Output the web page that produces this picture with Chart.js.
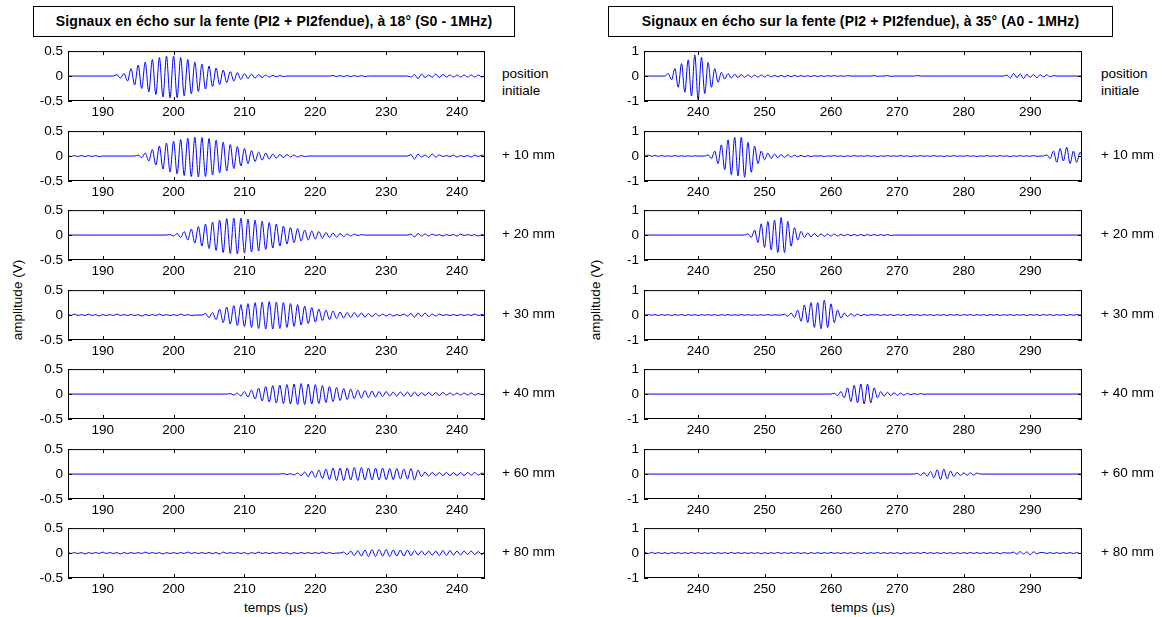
<!DOCTYPE html>
<html>
<head>
<meta charset="utf-8">
<script src="https://cdn.jsdelivr.net/npm/chart.js@4.4.0/dist/chart.umd.min.js"></script>
<style>
  body { margin: 0; background: #fff; width: 1162px; height: 617px; position: relative; overflow: hidden;
         font-family: "Liberation Sans", Arial, sans-serif; color: #000; }
  canvas { position: absolute; }
  .tbox { position: absolute; top: 6px; height: 31px; box-sizing: border-box; border: 1px solid #000; background: #fff;
          font-weight: bold; font-size: 14px; line-height: 29px; text-align: center; white-space: nowrap; letter-spacing: 0.15px; }
  .lbl { position: absolute; font-size: 13.5px; line-height: 17px; white-space: nowrap; }
  .ylab { position: absolute; font-size: 13.5px; white-space: nowrap; transform: translate(-50%, -50%) rotate(-90deg); }
  .xlab { position: absolute; font-size: 13.5px; white-space: nowrap; transform: translate(-50%, -50%); }
</style>
</head>
<body>
<div class="tbox" style="left:33px;width:482px">Signaux en écho sur la fente (PI2 + PI2fendue), à 18° (S0 - 1MHz)</div>
<div class="tbox" style="left:608px;width:505px">Signaux en écho sur la fente (PI2 + PI2fendue), à 35° (A0 - 1MHz)</div>
<div class="ylab" style="left:17px;top:300px">amplitude (V)</div>
<div class="ylab" style="left:595px;top:300px">amplitude (V)</div>
<div class="xlab" style="left:276px;top:607px">temps (µs)</div>
<div class="xlab" style="left:863px;top:607px">temps (µs)</div>
<script>
// ---- ticks / labels ----
const xTicksS0 = [190, 200, 210, 220, 230, 240];
const xTicksA0 = [240, 250, 260, 270, 280, 290];
const yTicksS0 = [-0.5, 0, 0.5];
const yTicksA0 = [-1, 0, 1];
const positions = ['position\ninitiale', '+ 10 mm', '+ 20 mm', '+ 30 mm', '+ 40 mm', '+ 60 mm', '+ 80 mm'];
const STEP = 0.5; // µs between successive extrema (1 MHz)

// ---- S0 traces (left): [start time µs, successive extrema in V] ----
const s0_init = [
  [191.5, [0, 0.03, -0.04, 0.05, -0.1, 0.15, -0.18, 0.22, -0.25, 0.28, -0.32, 0.33, -0.37, 0.37, -0.42, 0.4, -0.44, 0.4, -0.43, 0.37, -0.4, 0.33, -0.36, 0.28, -0.31, 0.24, -0.26, 0.2, -0.21, 0.16, -0.17, 0.12, -0.13, 0.09, -0.1, 0.07, -0.07, 0.05, -0.05, 0.04, -0.04, 0.03, -0.03, 0.02, -0.02, 0.015, -0.015, 0.01, -0.01, 0]],
  [222, [0, 0.01, -0.01, 0.01, -0.01, 0.01, -0.01, 0.01, -0.01, 0.01, -0.01, 0]],
  [233, [0, -0.02, 0.03, -0.05, 0.04, -0.03, 0.02, -0.02, 0.04, -0.03, 0.03, -0.02, 0.02, -0.02, 0.02, -0.02, 0.02, -0.02, 0.02, -0.02, 0.02, -0.02, 0.01]]
];
const s0_10 = [
  [185, [0.01, -0.01, 0.01, -0.01, 0.01, -0.01, 0.01, -0.01, 0.01, -0.01, 0]],
  [194.5, [0, 0.02, -0.03, 0.06, -0.1, 0.13, -0.18, 0.2, -0.26, 0.26, -0.32, 0.3, -0.36, 0.33, -0.39, 0.36, -0.41, 0.38, -0.42, 0.37, -0.41, 0.35, -0.38, 0.32, -0.34, 0.28, -0.3, 0.23, -0.25, 0.19, -0.2, 0.15, -0.15, 0.11, -0.11, 0.08, -0.08, 0.06, -0.06, 0.04, -0.04, 0.03, -0.03, 0.03, -0.02, 0.02, -0.02, 0.01, -0.01, 0]],
  [233, [0, 0.03, -0.06, 0.04, -0.02, 0.02, -0.03, 0.04, -0.02, 0.02, -0.01, 0.01, -0.01, 0.02, -0.02, 0.01, -0.01, 0.01, -0.02, 0.02, -0.01, 0.02, -0.01]]
];
const s0_20 = [
  [199, [0, 0.01, -0.02, 0.03, -0.05, 0.07, -0.1, 0.12, -0.16, 0.17, -0.22, 0.22, -0.27, 0.26, -0.31, 0.3, -0.35, 0.33, -0.37, 0.34, -0.38, 0.34, -0.36, 0.32, -0.34, 0.3, -0.32, 0.28, -0.29, 0.25, -0.26, 0.22, -0.22, 0.18, -0.18, 0.15, -0.15, 0.13, -0.12, 0.1, -0.1, 0.08, -0.08, 0.07, -0.06, 0.05, -0.05, 0.04, -0.04, 0.03, -0.03, 0.02, -0.02, 0.02, -0.01, 0.01, 0]],
  [233, [0, 0.02, -0.04, 0.03, -0.02, 0.02, -0.02, 0.02, -0.01, 0.01, -0.02, 0.01, -0.01, 0.01, -0.02, 0.02, -0.01, 0.01, -0.01, 0.01, -0.02, 0.01, -0.01]]
];
const s0_30 = [
  [185, [0.02, -0.01, 0.02, -0.01, 0.01, -0.01, 0.02, -0.01, 0.01, -0.02, 0.01, -0.01, 0.01, -0.01, 0.02, -0.01, 0.01, -0.01, 0.01, -0.01, 0.01, -0.02, 0.01, -0.01, 0.01, -0.01, 0.02, -0.01, 0.01, -0.01, 0.01, -0.01, 0.02, -0.01, 0.01, -0.01, 0]],
  [204, [0, 0.03, -0.05, 0.05, -0.09, 0.12, -0.15, 0.16, -0.18, 0.19, -0.21, 0.21, -0.23, 0.23, -0.25, 0.25, -0.27, 0.26, -0.28, 0.27, -0.28, 0.26, -0.27, 0.25, -0.25, 0.23, -0.23, 0.21, -0.2, 0.18, -0.17, 0.15, -0.14, 0.12, -0.11, 0.1, -0.09, 0.08, -0.07, 0.06, -0.06, 0.05, -0.05, 0.05, -0.04, 0.04, -0.04, 0.03, -0.03, 0.03, -0.02, 0.02, -0.02, 0.02, -0.02, 0.01, -0.01, 0.02, -0.02, 0.03, -0.04, 0.04, -0.03, 0.04, -0.03, 0.02, -0.02, 0.02, -0.01, 0.01, -0.01, 0.01, -0.01, 0.01, -0.01, 0.01, -0.01, 0.02, -0.01, 0.01, 0]]
];
const s0_40 = [
  [207.5, [0, 0.01, -0.02, 0.02, -0.04, 0.05, -0.06, 0.08, -0.1, 0.12, -0.14, 0.15, -0.16, 0.17, -0.18, 0.18, -0.19, 0.19, -0.2, 0.2, -0.21, 0.21, -0.21, 0.2, -0.2, 0.19, -0.19, 0.17, -0.17, 0.15, -0.15, 0.13, -0.13, 0.11, -0.11, 0.1, -0.09, 0.08, -0.08, 0.07, -0.07, 0.06, -0.06, 0.05, -0.05, 0.05, -0.04, 0.04, -0.04, 0.04, -0.04, 0.04, -0.05, 0.04, -0.04, 0.03, -0.03, 0.03, -0.03, 0.03, -0.03, 0.03, -0.02, 0.02, -0.02, 0.02, -0.02, 0.02, -0.02, 0.02, -0.02, 0.01, -0.01, 0]]
];
const s0_60 = [
  [215, [0, 0.01, -0.01, 0.01, -0.02, 0.02, -0.03, 0.04, -0.05, 0.06, -0.07, 0.08, -0.09, 0.1, -0.11, 0.12, -0.13, 0.12, -0.13, 0.12, -0.12, 0.13, -0.13, 0.13, -0.12, 0.12, -0.12, 0.12, -0.12, 0.12, -0.11, 0.11, -0.11, 0.11, -0.1, 0.1, -0.1, 0.11, -0.12, 0.08, -0.05, 0.04, -0.04, 0.03, -0.03, 0.03, -0.03, 0.03, -0.03, 0.03, -0.03, 0.03, -0.03, 0.03, -0.02, 0.03, -0.02, 0.02, 0]]
];
const s0_80 = [
  [185, [0.02, -0.01, 0.01, -0.01, 0.01, -0.02, 0.01, -0.01, 0.01, -0.01, 0.02, -0.01, 0.01, -0.01, 0.01, -0.02, 0.01, -0.01, 0.01, -0.01, 0.01, -0.01, 0.02, -0.01, 0.01, -0.01, 0.01, -0.02, 0.01, -0.01, 0.01, -0.01, 0.01, -0.01, 0.02, -0.01, 0.01, -0.01, 0.01, -0.01, 0.01, -0.01, 0.01, -0.02, 0.02, -0.01, 0.01, -0.01, 0.01, -0.01, 0.01, -0.02, 0.01, -0.01, 0.02, -0.01, 0.01, -0.01, 0.01, -0.01, 0.01, -0.01, 0.01, -0.02, 0.01, -0.01, 0.01, -0.01, 0.01, -0.01, 0.01, -0.01, 0.02, -0.01, 0.01, -0.01, 0]],
  [223.5, [0, 0.02, -0.03, 0.04, -0.05, 0.05, -0.06, 0.06, -0.07, 0.07, -0.07, 0.07, -0.06, 0.07, -0.07, 0.06, -0.06, 0.06, -0.06, 0.06, -0.05, 0.05, -0.04, 0.04, -0.04, 0.04, -0.04, 0.04, -0.05, 0.05, -0.05, 0.05, -0.04, 0.04, -0.04, 0.04, -0.03, 0.04, -0.03, 0.03, -0.03, 0.03]]
];

// ---- A0 traces (right) ----
const a0_init = [
  [235, [0, 0.1, -0.15, 0.3, -0.45, 0.5, -0.65, 0.65, -0.8, 0.85, -0.95, 0.75, -0.7, 0.55, -0.45, 0.3, -0.25, 0.15, -0.12, 0.1, -0.08, 0.07, -0.06, 0.06, -0.05, 0.05, -0.05, 0.04, -0.04, 0.04, -0.04, 0.04, -0.03, 0.03, -0.03, 0.03, -0.03, 0.03, -0.03, 0.03, -0.02, 0.02, -0.02, 0.02, -0.02, 0.02, -0.02, 0.02, -0.02, 0.02, -0.01, 0.02, -0.01, 0.01, -0.01, 0.02, 0]],
  [266, [0, 0.02, -0.01, 0]],
  [268, [0, 0.02, -0.01, 0]],
  [272.5, [0, 0.02, 0]],
  [286, [0, 0.04, -0.08, 0.1, -0.06, 0.08, -0.1, 0.07, -0.05, 0.06, -0.07, 0.05, -0.03, 0.05, -0.03, 0.02, 0]]
];
const a0_10 = [
  [232, [0, 0.04, -0.01, 0.02, -0.01, 0.02, -0.01, 0.01, -0.01, 0.02, -0.01, 0.01, -0.01, 0.01, -0.01, 0.01, 0]],
  [241, [0, 0.05, -0.1, 0.2, -0.3, 0.45, -0.55, 0.65, -0.75, 0.75, -0.8, 0.75, -0.85, 0.55, -0.65, 0.4, -0.3, 0.2, -0.15, 0.12, -0.1, 0.08, -0.07, 0.06, -0.06, 0.05, -0.04, 0.04, -0.03, 0.03, -0.03, 0.02, -0.02, 0.01, 0]],
  [258.5, [0.01, -0.02, 0.01, -0.01, 0.02, -0.01, 0.01, -0.02, 0.01, -0.01, 0.02, -0.01, 0.01, -0.01, 0.02, -0.01, 0.01, -0.02, 0.01, -0.01, 0.02, -0.01, 0.01, -0.01, 0.02, -0.01, 0.01, -0.02, 0.01, -0.01, 0.02, -0.01, 0.01, -0.01, 0.02, -0.01, 0.01, -0.02, 0.01, -0.01, 0.02, -0.01, 0.01, -0.01, 0.02, -0.01, 0.01, -0.02, 0.01, -0.01, 0.02, -0.01, 0.01, -0.01, 0.02, -0.01, 0.01, -0.02, 0.01, -0.01, 0.02, -0.01, 0.01, -0.01, 0.02, -0.01, 0]],
  [292, [0, 0.05, -0.1, 0.2, -0.25, 0.3, -0.2, 0.35, -0.3, 0.2, -0.25, 0.15, -0.1]]
];
const a0_20 = [
  [247, [0, 0.05, -0.1, 0.2, -0.3, 0.45, -0.5, 0.55, -0.6, 0.6, -0.7, 0.7, -0.7, 0.55, -0.45, 0.3, -0.2, 0.15, -0.1, 0.08, -0.07, 0.06, -0.06, 0.05, -0.05, 0.04, -0.04, 0.04, -0.04, 0.03, -0.03, 0.03, -0.03, 0.03, -0.03, 0.03, -0.03, 0.02, -0.02, 0.02, -0.02, 0.02, -0.02, 0.02, -0.02, 0]]
];
const a0_30 = [
  [232, [0, 0.02, -0.01, 0.02, -0.02, 0.02, -0.01, 0.02, -0.02, 0.02, -0.01, 0.02, -0.02, 0.02, -0.01, 0.02, -0.02, 0.02, -0.01, 0.02, -0.01, 0.02, -0.02, 0.02, -0.01, 0.02, -0.01, 0.01, -0.01, 0.02, -0.01, 0.02, -0.01, 0.01, -0.01, 0.01, -0.01, 0.02, -0.01, 0.01, 0]],
  [252.5, [0, 0.03, -0.05, 0.08, -0.1, 0.2, -0.25, 0.4, -0.3, 0.5, -0.5, 0.5, -0.55, 0.6, -0.5, 0.45, -0.3, 0.2, -0.12, 0.08, -0.06, 0.05, -0.04, 0.04, -0.03, 0.03, -0.02, 0.02]],
  [266.5, [0, 0.02, -0.02, 0.02, -0.01, 0.02, -0.02, 0.02, -0.01, 0.02, -0.02, 0.02, -0.01, 0.02, -0.02, 0.02, -0.01, 0.02, -0.02, 0.02, -0.01, 0.02, -0.02, 0.02, -0.01, 0.02, -0.02, 0.02, -0.01, 0.02, -0.02, 0.02, -0.01, 0.02, -0.02, 0.02, -0.01, 0.02, -0.02, 0.02, -0.01, 0.02, -0.02, 0.02, -0.01, 0.02, -0.02, 0.02, -0.01, 0.02, -0.02, 0.02, -0.01, 0.02, -0.02, 0.02, -0.01, 0.02, -0.02, 0.02, -0.01, 0.02, 0]]
];
const a0_40 = [
  [260, [0, 0.03, -0.06, 0.1, -0.15, 0.25, -0.3, 0.35, -0.35, 0.4, -0.4, 0.4, -0.35, 0.25, -0.15, 0.1, -0.08, 0.07, -0.06, 0.05, -0.05, 0.04, -0.04, 0.03, -0.03, 0.02, -0.02, 0.02, -0.01, 0]]
];
const a0_60 = [
  [272.5, [0, 0.03, -0.05, 0.06, -0.08, 0.1, -0.15, 0.17, -0.22, 0.2, -0.2, 0.12, -0.1, 0.07, -0.06, 0.05, -0.05, 0.05, -0.04, 0.04, 0]]
];
const a0_80 = [
  [232, [0.02, -0.02, 0.03, -0.02, 0.02, -0.02, 0.02, -0.03, 0.02, -0.02, 0.02, -0.02, 0.02, -0.02, 0.03, -0.02, 0.02, -0.02, 0.02, -0.02, 0.02, -0.03, 0.02, -0.02, 0.02, -0.02, 0.03, -0.02, 0.02, -0.02, 0.02, -0.02, 0.02, -0.02, 0.02, -0.03, 0.02, -0.02, 0.02, -0.02, 0.03, -0.02, 0.02, -0.02, 0.02, -0.02, 0.02, -0.02, 0.02, -0.03, 0.02, -0.02, 0.02, -0.02, 0.02, -0.02, 0.03, -0.02, 0.02, -0.02, 0.02, -0.02, 0.02, -0.03, 0.02, -0.02, 0.02, -0.02, 0.02, -0.02, 0.03, -0.02, 0.02, -0.02, 0.02, -0.02, 0.02, -0.03, 0.02, -0.02, 0.02, -0.02, 0.02, -0.02, 0.03, -0.02, 0.02, -0.02, 0.02, -0.02, 0.02, -0.02, 0.02, -0.03, 0.02, -0.02, 0.02, -0.02, 0.03, -0.02, 0.02, -0.02, 0.02, -0.02, 0.02, -0.02, 0.02, -0.03, 0.02, 0]],
  [287, [0, 0.04, -0.05, 0.06, -0.04, 0.05, -0.07, 0.05, -0.03, 0.02]],
  [292, [0.02, -0.02, 0.02, -0.02, 0.02, -0.02, 0.02, -0.02, 0.02, -0.02, 0.02, -0.02, 0.02]]
];

const tracesS0 = [s0_init, s0_10, s0_20, s0_30, s0_40, s0_60, s0_80];
const tracesA0 = [a0_init, a0_10, a0_20, a0_30, a0_40, a0_60, a0_80];

// ---- layout (px) ----
const ROW_TOPS = [48, 128, 207, 287, 366, 446, 525];
const PLOT_H = 53;
const panels = [
  { traces: tracesS0, xTicks: xTicksS0, yTicks: yTicksS0, xMin: 185.1, xMax: 243.95, yMax: 0.5, left: 68, width: 417, lblX: 502 },
  { traces: tracesA0, xTicks: xTicksA0, yTicks: yTicksA0, xMin: 231.85, xMax: 297.8, yMax: 1, left: 644, width: 438, lblX: 1101 }
];

Chart.defaults.font.family = '"Liberation Sans", Arial, sans-serif';
Chart.defaults.font.size = 13.5;
Chart.defaults.color = '#000';

// MATLAB-like box with inward ticks on all four sides
const boxPlugin = {
  id: 'matlabBox',
  afterDatasetsDraw(chart) {
    const { ctx, chartArea: a, scales: { x, y } } = chart;
    const L = 4;
    ctx.save();
    ctx.strokeStyle = '#000';
    ctx.lineWidth = 1;
    ctx.strokeRect(a.left + 0.5, a.top + 0.5, a.right - a.left - 1, a.bottom - a.top - 1);
    ctx.beginPath();
    x.ticks.forEach(t => {
      const px = Math.round(x.getPixelForValue(t.value)) + 0.5;
      ctx.moveTo(px, a.top); ctx.lineTo(px, a.top + L);
      ctx.moveTo(px, a.bottom); ctx.lineTo(px, a.bottom - L);
    });
    y.ticks.forEach(t => {
      const py = Math.round(y.getPixelForValue(t.value)) + 0.5;
      ctx.moveTo(a.left, py); ctx.lineTo(a.left + L, py);
      ctx.moveTo(a.right, py); ctx.lineTo(a.right - L, py);
    });
    ctx.stroke();
    ctx.restore();
  }
};

function toPoints(segments, xMin, xMax) {
  const pts = [{ x: xMin - 1, y: 0 }];
  segments.forEach(([t0, vals]) => {
    vals.forEach((v, i) => {
      const t = t0 + i * STEP;
      if (t > pts[pts.length - 1].x) pts.push({ x: t, y: v });
    });
  });
  pts.push({ x: xMax + 1, y: 0 });
  return pts;
}

panels.forEach(p => {
  p.traces.forEach((segs, row) => {
    const top = ROW_TOPS[row];
    const cv = document.createElement('canvas');
    const w = p.width + 60, h = PLOT_H + 34;
    cv.width = w; cv.height = h;
    cv.style.left = (p.left - 50) + 'px';
    cv.style.top = (top - 10) + 'px';
    cv.style.width = w + 'px'; cv.style.height = h + 'px';
    document.body.appendChild(cv);

    new Chart(cv, {
      type: 'line',
      data: { datasets: [{
        data: toPoints(segs, p.xMin, p.xMax),
        borderColor: '#0000ff', borderWidth: 1, pointRadius: 0, fill: false,
        cubicInterpolationMode: 'monotone'
      }] },
      options: {
        responsive: false, animation: false, events: [],
        layout: { padding: { top: 10, right: 10, left: 0, bottom: 0 } },
        plugins: { legend: { display: false }, tooltip: { enabled: false } },
        scales: {
          x: {
            type: 'linear', min: p.xMin, max: p.xMax,
            afterFit: s => { s.height = 24; },
            afterBuildTicks: s => { s.ticks = p.xTicks.map(v => ({ value: v })); },
            grid: { display: false, drawTicks: false }, border: { display: false },
            ticks: { padding: 3, autoSkip: false, maxRotation: 0 }
          },
          y: {
            type: 'linear', min: -p.yMax, max: p.yMax,
            afterFit: s => { s.width = 50; },
            afterBuildTicks: s => { s.ticks = p.yTicks.map(v => ({ value: v })); },
            grid: { display: false, drawTicks: false }, border: { display: false },
            ticks: { padding: 5 }
          }
        }
      },
      plugins: [boxPlugin]
    });

    const lbl = document.createElement('div');
    lbl.className = 'lbl';
    const lines = positions[row].split('\n');
    lbl.innerHTML = lines.join('<br>');
    lbl.style.left = p.lblX + 'px';
    lbl.style.top = (top + 26.5 - (lines.length > 1 ? 10 : 8.5)) + 'px';
    document.body.appendChild(lbl);
  });
});
</script>
</body>
</html>
